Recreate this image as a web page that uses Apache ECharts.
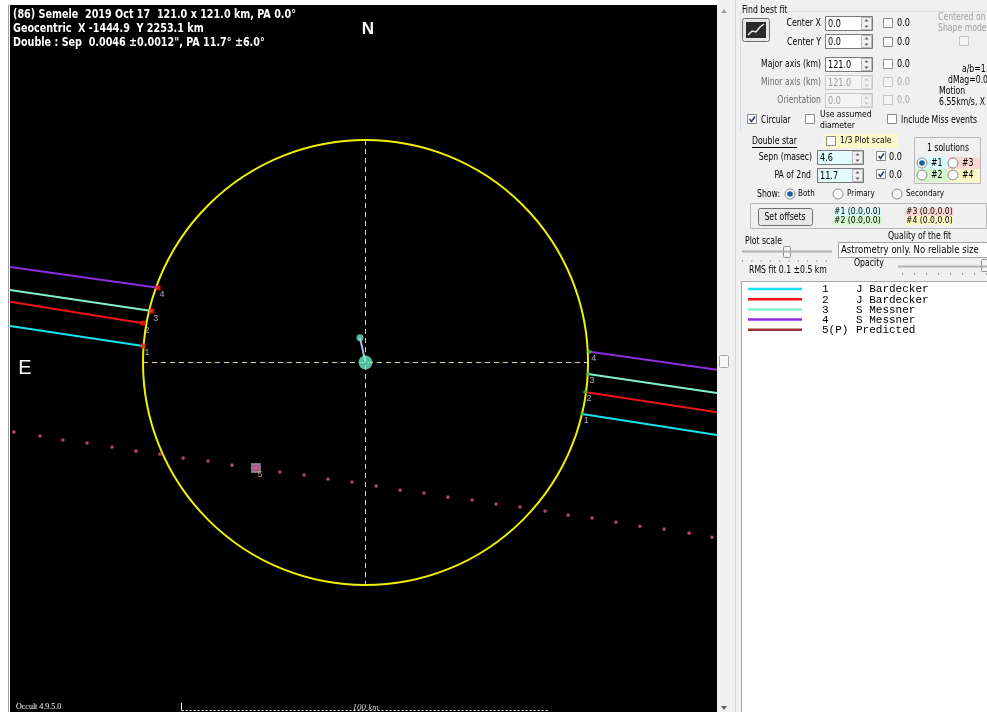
<!DOCTYPE html>
<html><head><meta charset="utf-8">
<script src="https://cdn.jsdelivr.net/npm/echarts@6/dist/echarts.min.js"></script>
<style>html,body{margin:0;padding:0;background:#fff;overflow:hidden}#c{width:987px;height:712px;}</style>
</head><body><div id="c"></div><script>
// ---------------- DATA (km) ----------------
const titleLines = [
  '(86) Semele  2019 Oct 17  121.0 x 121.0 km, PA 0.0\u00b0',
  'Geocentric  X -1444.9  Y 2253.1 km',
  'Double : Sep  0.0046 \u00b10.0012", PA 11.7\u00b0 \u00b16.0\u00b0'
];
const axisRangeX = [-96.66, 95.57];
const axisRangeY = [-95.02, 97.20];
const shapeCenter = [0, 0];
const shapeDiameter = 121.0;
const secondaryOffset = [-1.5, 6.7];
const chordIds = ['1', '2', '3', '4'];
const chordObservers = ['J Bardecker', 'J Bardecker', 'S Messner', 'S Messner'];
const chordLeftY = [9.9, 16.5, 19.7, 26.0];
const chordDisappear = [[-60.5, 4.5], [-60.5, 10.7], [-58.1, 14.0], [-56.4, 20.3]];
const chordReappear = [[58.9, -14.0], [59.7, -8.0], [60.5, -3.1], [61.0, 2.9]];
const chordRightY = [-19.7, -13.5, -8.3, -2.0];
const predictedX = [-95.6, -88.5, -82.3, -75.7, -68.9, -62.4, -55.9, -49.6, -42.8, -36.3, -29.8, -23.3, -16.7, -10.2, -3.7, 2.9, 9.4, 15.9, 22.4, 29.0, 35.5, 42.0, 48.8, 55.1, 61.6, 68.1, 74.6, 81.2, 88.0, 94.2];
const predictedY = [-18.9, -20.0, -21.1, -21.9, -23.0, -24.1, -24.9, -26.0, -26.8, -27.9, -28.7, -29.8, -30.6, -31.7, -32.5, -33.6, -34.7, -35.5, -36.6, -37.4, -38.5, -39.3, -40.4, -41.5, -42.3, -43.4, -44.5, -45.3, -46.4, -47.5];
const predictedMarkerIndex = 10;
const predictedLabel = '5';
const scaleBarKm = 100;
const scaleBarY = -94.5;
const legendNums = ['1', '2', '3', '4', '5(P)'];
const legendNames = ['J Bardecker', 'J Bardecker', 'S Messner', 'S Messner', 'Predicted'];

// ---------------- STYLES ----------------
const chordColors = ['#14e4f0', '#f01414', '#82f0c8', '#8c30dc'];
const legendColors = ['#14e4f0', '#f01414', '#82f0c8', '#8c30dc', '#a03030'];
const NARROW = '"Liberation Sans Narrow","Arial Narrow","DejaVu Sans Condensed",sans-serif';
const UI = '10px ' + NARROW;
const MONO = '11px "Liberation Mono","DejaVu Sans Mono",monospace';

// ---------------- GRAPHIC HELPERS (UI panel) ----------------
const G = [];
function T(x, y, s, o) {
  o = o || {};
  G.push({ type: 'text', x: x, y: y, z: 10, silent: true, scaleX: (o.sx !== undefined ? o.sx : 0.86),
    style: { text: s, fill: o.fill || '#000', font: o.font || UI,
      textAlign: o.align || 'left', align: o.align || 'left',
      textVerticalAlign: 'middle', verticalAlign: 'middle' } });
}
function R(x, y, w, h, fill, stroke, r) {
  G.push({ type: 'rect', z: 5, silent: true, shape: { x: x, y: y, width: w, height: h, r: r || 0 },
    style: { fill: fill || 'none', stroke: stroke || null, lineWidth: 1 } });
}
function L(pts, stroke, w, dash) {
  G.push({ type: 'polyline', z: 6, silent: true, shape: { points: pts },
    style: { stroke: stroke, lineWidth: w || 1, fill: null, lineDash: dash || null } });
}
function CB(x, y, checked, disabled) {
  R(x + 0.5, y + 0.5, 9, 9, disabled ? '#f4f4f4' : '#fff', disabled ? '#c4c4c4' : '#8a8a8a');
  if (checked) L([[x + 2.5, y + 5], [x + 4.5, y + 7.5], [x + 8, y + 2.5]], '#2b3f6e', 1.6);
}
function RD(cx, cy, sel) {
  G.push({ type: 'circle', z: 6, silent: true, shape: { cx: cx, cy: cy, r: 5 }, style: { fill: '#fbfbfb', stroke: '#8a8a8a' } });
  if (sel) G.push({ type: 'circle', z: 7, silent: true, shape: { cx: cx, cy: cy, r: 2.8 }, style: { fill: '#1e5a9c' } });
}
function TB(x, y, w, h, s, bg, disabled) {
  R(x + 0.5, y + 0.5, w, h, bg || '#fff', disabled ? '#c8c8c8' : '#7a7a7a');
  T(x + 3, y + h / 2 + 1, s, { fill: disabled ? '#9a9a9a' : '#000', font: '11px ' + NARROW, sx: 0.82 });
  const sx = x + w - 11;
  R(sx + 0.5, y + 1.5, 10, h - 2, '#f0f0f0', disabled ? '#d8d8d8' : '#b8b8b8');
  const cx = sx + 5.5, m = y + h / 2 + 0.5;
  const col = disabled ? '#c0c0c0' : '#606060';
  G.push({ type: 'polygon', z: 7, silent: true, shape: { points: [[cx - 2, m - 2], [cx + 2, m - 2], [cx, m - 4.5]] }, style: { fill: col } });
  G.push({ type: 'polygon', z: 7, silent: true, shape: { points: [[cx - 2, m + 2], [cx + 2, m + 2], [cx, m + 4.5]] }, style: { fill: col } });
}

// panel backgrounds
R(717, 0, 20, 712, '#f0f0f0', null);
L([[735.5, 0], [735.5, 712]], '#d8d8d8', 1);
R(737, 0, 250, 712, '#f0f0f0', null);
L([[8.5, 5], [8.5, 712]], '#a0a0a0', 1);
// scrollbar
G.push({ type: 'polygon', z: 7, silent: true, shape: { points: [[721, 13], [727, 13], [724, 9]] }, style: { fill: '#a0a0a0' } });
R(719.5, 355.5, 9, 12, '#f7f7f7', '#a8a8a8', 1);
G.push({ type: 'polygon', z: 7, silent: true, shape: { points: [[721, 706], [727, 706], [724, 710]] }, style: { fill: '#606060' } });

// Find best fit group
L([[779, 11.5], [986, 11.5]], '#d5dfe5', 1);
L([[740.5, 11.5], [740.5, 132]], '#d5dfe5', 1);
T(742, 10, 'Find best fit');
R(742.5, 18.5, 27, 23, '#e6e6e6', '#707070', 2);
R(746, 22, 20, 16, '#2a2a2a', null);
L([[748, 35], [752, 31], [756, 32], [760, 27], [764, 24]], '#e8e8e8', 1.5);
T(821, 23, 'Center X', { align: 'right', font: '11px ' + NARROW, sx: 0.8 });
TB(825, 16, 47, 14, '0.0');
CB(883, 18, false, false); T(897, 23, '0.0', { font: '11px ' + NARROW, sx: 0.82 });
T(821, 42, 'Center Y', { align: 'right', font: '11px ' + NARROW, sx: 0.8 });
TB(825, 34, 47, 14, '0.0');
CB(883, 37, false, false); T(897, 42, '0.0', { font: '11px ' + NARROW, sx: 0.82 });
T(938, 17, 'Centered on', { fill: '#a0a0a0' });
T(938, 28, 'Shape mode', { fill: '#a0a0a0' });
CB(959, 36, false, true);
T(821, 64, 'Major axis (km)', { align: 'right' });
TB(825, 57, 47, 14, '121.0');
CB(883, 59, false, false); T(897, 64, '0.0', { font: '11px ' + NARROW, sx: 0.82 });
T(821, 82, 'Minor axis (km)', { align: 'right', fill: '#6a6a6a' });
TB(825, 75, 47, 14, '121.0', '#f4f4f4', true);
CB(883, 77, false, true); T(897, 82, '0.0', { fill: '#a8a8a8', font: '11px ' + NARROW, sx: 0.82 });
T(821, 100, 'Orientation', { align: 'right', fill: '#6a6a6a' });
TB(825, 93, 47, 14, '0.0', '#f4f4f4', true);
CB(883, 95, false, true); T(897, 100, '0.0', { fill: '#a8a8a8', font: '11px ' + NARROW, sx: 0.82 });
T(962, 69, 'a/b=1.00');
T(948, 80, 'dMag=0.00');
T(939, 91, 'Motion');
T(939, 102, '6.55km/s, X');
CB(747, 114, true, false); T(761, 120, 'Circular');
CB(805, 114, false, false); T(820, 115, 'Use assumed', { font: '9px ' + NARROW, sx: 0.95 }); T(820, 126, 'diameter', { font: '9px ' + NARROW, sx: 0.95 });
CB(887, 114, false, false); T(901, 120, 'Include Miss events');

// Double star block
T(752, 141, 'Double star');
L([[752, 147.5], [797, 147.5]], '#000', 1);
R(823, 134, 75, 14, '#fcf8c8', null);
CB(826, 136, false, false); T(840, 141, '1/3 Plot scale', { font: '9px ' + NARROW, sx: 0.95 });
T(812, 157, 'Sepn (masec)', { align: 'right' });
TB(817, 150, 46, 14, '4.6', '#e0fcfc');
CB(876, 151, true, false); T(889, 157, '0.0', { font: '11px ' + NARROW, sx: 0.82 });
T(811, 175, 'PA of 2nd', { align: 'right' });
TB(817, 168, 46, 14, '11.7', '#e0fcfc');
CB(876, 169, true, false); T(889, 175, '0.0', { font: '11px ' + NARROW, sx: 0.82 });
R(914.5, 137.5, 66, 46, '#f0f0f0', '#b8b8b8');
T(948, 148, '1 solutions', { align: 'center' });
R(916, 157, 32, 12, '#d8fcfc', null); R(948, 157, 32, 12, '#fcd8d4', null);
R(916, 169, 32, 13, '#d4f8cc', null); R(948, 169, 32, 13, '#fcf8c8', null);
RD(922, 163, true); T(931, 163, '#1');
RD(953, 163, false); T(962, 163, '#3');
RD(922, 175, false); T(931, 175, '#2');
RD(953, 175, false); T(962, 175, '#4');
T(757, 194, 'Show:');
RD(790, 194, true); T(798, 194, 'Both', { font: '8px ' + NARROW, sx: 1 });
RD(838, 194, false); T(847, 194, 'Primary', { font: '8px ' + NARROW, sx: 1 });
RD(897, 194, false); T(906, 194, 'Secondary', { font: '8px ' + NARROW, sx: 1 });
R(750.5, 203.5, 236, 25, null, '#b8b8b8');
R(758.5, 208.5, 54, 17, '#e8e8e8', '#707070', 2);
T(785, 217, 'Set offsets', { align: 'center' });
R(833, 208, 49, 8, '#d8fcfc', null); T(834, 212, '#1 (0.0,0.0)', { font: '9px ' + NARROW, sx: 0.95 });
R(833, 216, 49, 9, '#d4f8cc', null); T(834, 221, '#2 (0.0,0.0)', { font: '9px ' + NARROW, sx: 0.95 });
R(905, 208, 49, 8, '#fcd8d4', null); T(906, 212, '#3 (0.0,0.0)', { font: '9px ' + NARROW, sx: 0.95 });
R(905, 216, 49, 9, '#fcf8c8', null); T(906, 221, '#4 (0.0,0.0)', { font: '9px ' + NARROW, sx: 0.95 });
T(745, 241, 'Plot scale');
L([[742, 251.5], [832, 251.5]], '#b0b0b0', 2);
R(783.5, 246.5, 7, 11, '#f4f4f4', '#909090', 1);
for (let i = 0; i < 10; i++) L([[742.5 + i * 9.3, 260], [742.5 + i * 9.3, 262]], '#a0a0a0', 1);
T(888, 236, 'Quality of the fit');
R(838.5, 242.5, 150, 15, '#fff', '#a0a0a0');
T(841, 250, 'Astrometry only. No reliable size', { sx: 0.95 });
T(854, 263, 'Opacity');
L([[898, 266.5], [987, 266.5]], '#b0b0b0', 2);
R(981.5, 259.5, 6, 12, '#f4f4f4', '#909090', 1);
for (let i = 0; i < 8; i++) L([[902.5 + i * 12, 273], [902.5 + i * 12, 275]], '#a0a0a0', 1);
T(749, 270, 'RMS fit 0.1 \u00b10.5 km');

// legend list box
R(741.5, 281.5, 250, 440, '#fff', '#a8a8a8');
const legendY0 = 289, legendDY = 10.2;
legendNums.forEach(function (n, i) {
  const y = legendY0 + i * legendDY;
  L([[748, y], [802, y]], legendColors[i], 2.5);
  T(822, y + 0.5, n, { font: MONO, sx: 1 });
  T(856, y + 0.5, legendNames[i], { font: MONO, sx: 1 });
});

// texts on the black plot
const WHITE_BOLD = 'bold 12px ' + NARROW;
titleLines.forEach(function (s, i) { T(13, 15 + i * 14, s, { fill: '#fff', font: WHITE_BOLD, sx: 0.89 }); });
T(368, 29, 'N', { fill: '#fff', font: 'bold 17px "Liberation Sans",Arial,sans-serif', align: 'center', sx: 1 });
T(25, 368, 'E', { fill: '#fff', font: '20px "Liberation Sans",Arial,sans-serif', align: 'center', sx: 1 });
T(16, 707, 'Occult 4.9.5.0', { fill: '#fff', font: '8px "Liberation Serif","Times New Roman",serif', sx: 1 });

// ---------------- SERIES ----------------
const radius = shapeDiameter / 2;
const chordLines = [];
chordIds.forEach(function (id, i) {
  const st = { color: chordColors[i], width: 2, opacity: 1 };
  chordLines.push({ coords: [[axisRangeX[0], chordLeftY[i]], chordDisappear[i]], lineStyle: st });
  chordLines.push({ coords: [chordReappear[i], [axisRangeX[1], chordRightY[i]]], lineStyle: st });
});
const crossLines = [
  { coords: [[shapeCenter[0] - radius, shapeCenter[1]], [shapeCenter[0] + radius, shapeCenter[1]]] },
  { coords: [[shapeCenter[0], shapeCenter[1] + radius], [shapeCenter[0], shapeCenter[1] - radius]] }
];
const scaleLines = [
  { coords: [[-scaleBarKm / 2, scaleBarY], [scaleBarKm / 2, scaleBarY]] },
  { coords: [[-scaleBarKm / 2, scaleBarY], [-scaleBarKm / 2, scaleBarY + 2]], lineStyle: { type: 'solid' } }
];
const lblStyle = { show: true, position: 'inside', offset: [4, 7], color: '#c8d4e4', fontSize: 9, fontFamily: 'Liberation Sans' };

const option = {
  animation: false,
  backgroundColor: 'transparent',
  grid: { left: 10, top: 5, width: 707, height: 707, show: true, backgroundColor: '#000', borderWidth: 0 },
  xAxis: { type: 'value', min: axisRangeX[0], max: axisRangeX[1], show: false },
  yAxis: { type: 'value', min: axisRangeY[0], max: axisRangeY[1], show: false },
  graphic: { elements: G },
  series: [
    { type: 'custom', coordinateSystem: 'cartesian2d', clip: false, silent: true, z: 2,
      encode: { x: 0, y: 1 },
      data: [[shapeCenter[0], shapeCenter[1], shapeDiameter]],
      renderItem: function (params, api) {
        const c = api.coord([api.value(0), api.value(1)]);
        const r = api.size([api.value(2) / 2, 0])[0];
        return { type: 'circle', shape: { cx: c[0], cy: c[1], r: r }, style: { fill: 'none', stroke: '#f0f000', lineWidth: 2 } };
      } },
    { type: 'lines', coordinateSystem: 'cartesian2d', z: 3, silent: true,
      lineStyle: { color: '#e4dc8c', width: 1, type: [5, 4], opacity: 1 }, data: crossLines },
    { type: 'scatter', z: 3, silent: true, symbol: 'circle', symbolSize: 3.6,
      itemStyle: { color: '#dc5080' },
      data: predictedX.map(function (x, i) { return [x, predictedY[i]]; }) },
    { type: 'scatter', z: 4, silent: true, symbol: 'rect', symbolSize: 8,
      itemStyle: { color: '#e0609a', borderColor: '#8494a8', borderWidth: 2 },
      label: { show: true, formatter: predictedLabel, position: 'inside', offset: [4, 6], color: '#e8b060', fontSize: 9 },
      data: [[predictedX[predictedMarkerIndex], predictedY[predictedMarkerIndex]]] },
    { type: 'lines', coordinateSystem: 'cartesian2d', z: 5, silent: true, data: chordLines },
    { type: 'scatter', z: 6, silent: true, symbol: 'rect', symbolSize: 5, itemStyle: { color: '#ff1a10' },
      label: Object.assign({ formatter: function (p) { return chordIds[p.dataIndex]; } }, lblStyle),
      data: chordDisappear },
    { type: 'scatter', z: 6, silent: true, symbol: 'circle', symbolSize: 4, itemStyle: { color: '#34c034' },
      label: Object.assign({ formatter: function (p) { return chordIds[p.dataIndex]; } }, lblStyle),
      data: chordReappear },
    { type: 'lines', coordinateSystem: 'cartesian2d', z: 7, silent: true,
      lineStyle: { color: '#a8c4e4', width: 2, opacity: 1 },
      data: [{ coords: [secondaryOffset, shapeCenter] }] },
    { type: 'scatter', z: 8, silent: true, symbol: 'circle', itemStyle: { color: '#6ee8c4' },
      symbolSize: function (v, p) { return p.dataIndex === 0 ? 14 : 7; },
      data: [shapeCenter, secondaryOffset] },
    { type: 'lines', coordinateSystem: 'cartesian2d', z: 7, silent: true,
      lineStyle: { color: '#ffffff', width: 1, type: [2, 2], opacity: 1 }, data: scaleLines },
    { type: 'scatter', z: 8, silent: true, symbolSize: 0,
      label: { show: true, formatter: scaleBarKm + ' km', position: 'inside', offset: [0, -2], color: '#fff', fontSize: 9, fontStyle: 'italic', fontFamily: 'Liberation Serif' },
      data: [[0, scaleBarY]] }
  ]
};
const chart = echarts.init(document.getElementById('c'), null, { renderer: 'canvas' });
chart.setOption(option);
</script></body></html>
